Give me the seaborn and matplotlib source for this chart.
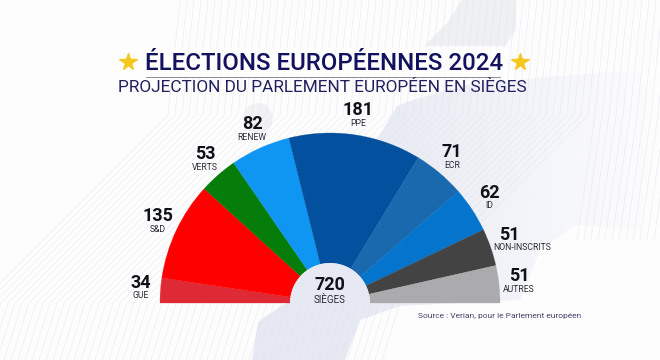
import numpy as np
import matplotlib
matplotlib.use("Agg")
import matplotlib.pyplot as plt
import seaborn as sns
from matplotlib.collections import LineCollection
from matplotlib.patches import Wedge, Polygon, Circle, Rectangle

# seats, left to right
groups = ["GUE", "S&D", "VERTS", "RENEW", "PPE", "ECR", "ID", "NON-INSCRITS", "AUTRES"]
seats = [34, 135, 53, 82, 181, 71, 62, 51, 51]
total_seats = 720
title = "ÉLECTIONS EUROPÉENNES 2024"
subtitle = "PROJECTION DU PARLEMENT EUROPÉEN EN SIÈGES"
source = "Source : Verian, pour le Parlement européen"

colors = ["#df2a36", "#fe0000", "#067d0a", "#0f96f2", "#03509f", "#1a68ae", "#0574cc", "#434343", "#abaaac"]

# pixel layout of the labels (number x, number y, name x, name y)
label_xy = [(141, 283, 141, 296), (158, 216, 158, 229), (205, 154, 205, 167),
            (252, 124, 252, 137), (358, 110, 358, 123), (452, 152, 452, 165),
            (489, 193, 489, 206), (509, 235, 522, 248), (519, 276, 519, 289)]

sns.set_theme(style="white")
plt.rcParams["font.family"] = ["Roboto", "DejaVu Sans"]
palette = sns.color_palette(colors)

fig = plt.figure(figsize=(6.6, 3.6), dpi=100, facecolor="#fdfdfe")
ax = fig.add_axes([0, 0, 1, 1])
ax.set_xlim(0, 660)
ax.set_ylim(360, 0)
ax.axis("off")

# pale map of Europe in the background, fading to the right
fade = np.linspace(1, 0, 300).reshape(1, -1)
rgba = np.zeros((1, 300, 4))
rgba[..., :3] = matplotlib.colors.to_rgb("#e6e9f3")
rgba[..., 3] = np.clip(fade * 1.3, 0, 1)
land = Polygon([(330, 200), (380, 135), (397, 106), (413, 100), (470, 84), (560, 76), (640, 70),
                (660, 130), (640, 230), (575, 225), (540, 250), (520, 300), (400, 306), (360, 320),
                (345, 360), (252, 360), (258, 322), (290, 300)],
               closed=True, transform=ax.transData, fc="none", ec="none")
ax.add_patch(land)
img = ax.imshow(rgba, extent=(250, 660, 360, 60), aspect="auto", zorder=0.5)
img.set_clip_path(land)
ax.set_xlim(0, 660)
ax.set_ylim(360, 0)
ax.add_patch(Polygon([(424, 46), (436, 34), (448, 22), (462, 0), (516, 0), (516, 30), (505, 46)],
                     fc="#eef0f4", ec="none", zorder=0.6))
ax.add_patch(Circle((258, 118), 15, fc="#f2f2f5", ec="none", zorder=0.6))

# chevron stripes
stripes = []
for x0 in range(-20, 660, 7):
    if x0 <= 400:
        stripes.append([(x0 + 200, 0), (x0 + 188, 115), (x0, 303), (x0 - 18, 360)])
    else:
        stripes.append([(x0 + 200, 0), (x0 + 188, 115), (x0 + 170, 240)])
ax.add_collection(LineCollection(stripes, colors="#e2e3e7", linewidths=0.5, alpha=0.6, zorder=0.8))

ax.add_patch(Rectangle((118, 48), 390, 30, fc="white", ec="none", alpha=0.75, zorder=0.9))

# hemicycle
cx, cy, r_out, r_in = 330, 303, 170, 40
edges = np.cumsum([0] + seats) / total_seats * 180
for i in range(len(seats)):
    ax.add_patch(Wedge((cx, cy), r_out, 180 + edges[i], 180 + edges[i + 1], width=r_out - r_in,
                       fc=palette[i], ec=palette[i], lw=0.2, zorder=2))
ax.add_patch(Wedge((cx, cy), r_in, 180, 360, fc="#e6e9f3", ec="none", zorder=2))

for i, (nx, ny, lx, ly) in enumerate(label_xy):
    ax.text(nx, ny, str(seats[i]), ha="center", va="center", fontsize=13, fontweight="bold",
            color="#101018", zorder=3)
    ax.text(lx, ly, groups[i], ha="center", va="center", fontsize=6.2, color="#2a2a35", zorder=3)

ax.text(cx, 285, str(total_seats), ha="center", va="center", fontsize=13, fontweight="bold",
        color="#101018", zorder=3)
ax.text(cx, 300, "SIÈGES", ha="center", va="center", fontsize=7, color="#2a2a35", zorder=3)

ax.text(324.5, 63, title, ha="center", va="center", fontsize=17.3, fontweight="medium", color="#12125e", zorder=3)
ax.plot([146, 500], [77, 77], color="#777788", lw=0.6, zorder=3)
ax.text(322, 88, subtitle, ha="center", va="center", fontsize=12.4, color="#20205f", zorder=3)
ax.plot([128, 520], [62, 62], ls="none", marker="*", ms=13, mfc="#f6c71c", mec="#f6c71c", zorder=3)
ax.text(500, 316, source, ha="center", va="center", fontsize=6, color="#44446a", zorder=3)

fig.savefig("out.png", dpi=100)
